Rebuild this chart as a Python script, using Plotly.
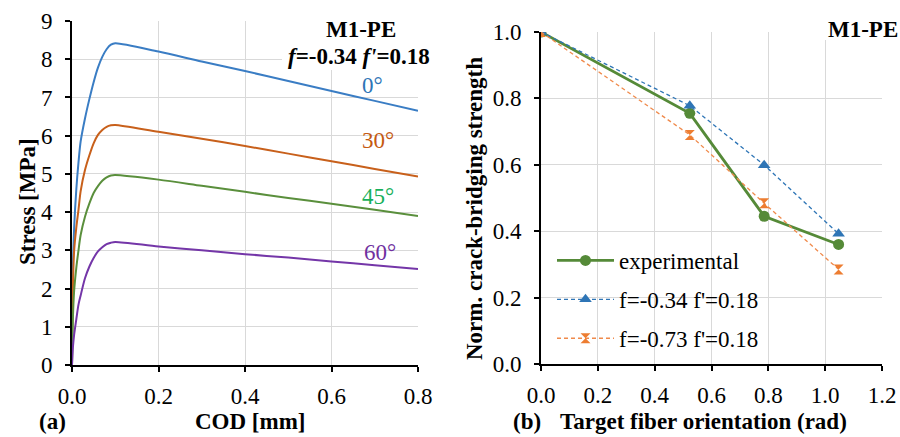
import plotly.graph_objects as go

# ---- (a) simulated crack-bridging curves, M1-PE, f=-0.34 f'=0.18 ----
cod_mm = [0, 0.002, 0.005, 0.01, 0.015, 0.02, 0.03, 0.04, 0.05, 0.06, 0.07,
          0.08, 0.09, 0.1, 0.2, 0.3, 0.4, 0.5, 0.6, 0.7, 0.8]
stress_0deg = [0, 2.5, 3.6, 4.6, 5.3, 5.85, 6.45, 6.95, 7.4, 7.78, 8.06,
               8.26, 8.38, 8.42, 8.2, 7.94, 7.69, 7.43, 7.17, 6.91, 6.65]
stress_30deg = [0, 2.0, 3.0, 3.6, 4.06, 4.55, 5.1, 5.48, 5.8, 6.02, 6.15,
                6.23, 6.27, 6.28, 6.1, 5.92, 5.73, 5.53, 5.33, 5.13, 4.93]
stress_45deg = [0, 1.2, 1.95, 2.55, 3.0, 3.4, 3.88, 4.22, 4.5, 4.68, 4.82,
                4.91, 4.96, 4.97, 4.85, 4.69, 4.53, 4.37, 4.22, 4.06, 3.9]
stress_60deg = [0, 0.45, 0.8, 1.2, 1.58, 1.82, 2.27, 2.57, 2.8, 2.97, 3.08,
                3.16, 3.2, 3.22, 3.1, 3.0, 2.9, 2.81, 2.71, 2.61, 2.51]
angle_labels = ["0°", "30°", "45°", "60°"]

# ---- (b) normalized crack-bridging strength vs. fiber orientation ----
orientation_rad = [0.0, 0.5236, 0.7854, 1.0472]
experimental = [1.0, 0.755, 0.445, 0.36]
model_f034 = [1.0, 0.778, 0.599, 0.392]
model_f073 = [1.0, 0.69, 0.484, 0.285]

SERIF = "Liberation Serif"
FS = 23
W, H = 900, 437


def px(x):
    return x / W


def py(y):
    return 1 - y / H


fig = go.Figure()

curve_colors = ["#3a7dc4", "#c8601b", "#5a8f3c", "#7436a8"]
label_colors = ["#2e75b6", "#c55a11", "#17b05a", "#7030a0"]
curves = [stress_0deg, stress_30deg, stress_45deg, stress_60deg]
for ys, col, name in zip(curves, curve_colors, angle_labels):
    fig.add_trace(go.Scatter(
        x=cod_mm, y=ys, mode="lines", name=name, showlegend=False,
        line=dict(color=col, width=2, shape="spline", smoothing=0.8),
        xaxis="x", yaxis="y"))

fig.add_trace(go.Scatter(
    x=orientation_rad, y=experimental, mode="lines+markers",
    name="experimental", legendgroup="a",
    line=dict(color="#558a38", width=2.8),
    marker=dict(symbol="circle", size=11, color="#558a38"),
    xaxis="x2", yaxis="y2"))
fig.add_trace(go.Scatter(
    x=orientation_rad, y=model_f034, mode="lines+markers",
    name="f=-0.34 f'=0.18", legendgroup="b",
    line=dict(color="#2e75b6", width=1.3, dash="4px,3px"),
    marker=dict(symbol="triangle-up", size=11, color="#2e75b6"),
    xaxis="x2", yaxis="y2"))
fig.add_trace(go.Scatter(
    x=orientation_rad, y=model_f073, mode="lines+markers",
    name="f=-0.73 f'=0.18", legendgroup="c",
    line=dict(color="#f08a4b", width=1.3, dash="4px,3px"),
    marker=dict(symbol="hourglass", size=10, color="#ed7d31"),
    xaxis="x2", yaxis="y2"))

tickfont = dict(family=SERIF, size=FS, color="black")
axis_common = dict(
    showgrid=True, gridcolor="#d9d9d9", gridwidth=1,
    showline=True, linecolor="black", linewidth=2,
    ticks="outside", ticklen=5, tickwidth=2, tickcolor="black",
    tickfont=tickfont, zeroline=False, fixedrange=True, automargin=False)

fig.update_layout(
    template="none",
    width=W, height=H,
    margin=dict(l=0, r=0, t=0, b=0),
    paper_bgcolor="white", plot_bgcolor="white",
    font=dict(family=SERIF, size=FS, color="black"),
    xaxis=dict(domain=[px(72), px(418)], range=[0, 0.8],
               tickvals=[0, 0.2, 0.4, 0.6, 0.8], tickformat=".1f",
               ticklabelstandoff=4, anchor="y", **axis_common),
    yaxis=dict(domain=[py(365), py(21)], range=[0, 9], dtick=1,
               ticklabelstandoff=8, anchor="x", **axis_common),
    xaxis2=dict(domain=[px(541), px(882)], range=[0, 1.2],
                dtick=0.2, tickformat=".1f", ticklabelstandoff=4,
                anchor="y2", **axis_common),
    yaxis2=dict(domain=[py(364), py(32)], range=[0, 1.0],
                dtick=0.2, tickformat=".1f", ticklabelstandoff=8,
                anchor="x2", **axis_common),
    legend=dict(x=px(552), y=py(239), xanchor="left", yanchor="top",
                bgcolor="rgba(0,0,0,0)", font=dict(family=SERIF, size=FS),
                traceorder="grouped", tracegroupgap=6, itemwidth=57),
    shapes=[
        # white backing behind the panel headers
        dict(type="rect", xref="paper", yref="paper", layer="above",
             x0=px(282), x1=px(419), y0=py(70), y1=py(8),
             fillcolor="white", line=dict(width=0)),
        dict(type="rect", xref="paper", yref="paper", layer="above",
             x0=px(822), x1=px(900), y0=py(40), y1=py(10),
             fillcolor="white", line=dict(width=0)),
    ],
)

annotations = [
    # panel (a)
    dict(x=px(361), y=py(29), text="<b>M1-PE</b>"),
    dict(x=px(359), y=py(56), text="<b><i>f</i>=-0.34 <i>f'</i>=0.18</b>"),
    dict(x=px(27), y=py(202), text="<b>Stress [MPa]</b>", textangle=-90),
    dict(x=px(250), y=py(421), text="<b>COD [mm]</b>"),
    dict(x=px(52), y=py(421), text="<b>(a)</b>"),
    # panel (b)
    dict(x=px(863), y=py(29), text="<b>M1-PE</b>"),
    dict(x=px(474), y=py(208), text="<b>Norm. crack-bridging strength</b>",
         textangle=-90),
    dict(x=px(527), y=py(421), text="<b>(b)</b>"),
    dict(x=px(703), y=py(421), text="<b>Target fiber orientation (rad)</b>"),
]
for a in annotations:
    a["color"] = "black"
    a["xanchor"] = "center"
label_pos = [(360, 85), (360, 141), (360, 196), (362, 252)]
for lab, col, (lx, ly) in zip(angle_labels, label_colors, label_pos):
    annotations.append(dict(x=px(lx), y=py(ly), text=lab, color=col,
                            xanchor="left"))

for a in annotations:
    col = a.pop("color")
    a.update(xref="paper", yref="paper", showarrow=False,
             yanchor="middle", font=dict(family=SERIF, size=FS, color=col))
fig.update_layout(annotations=annotations)

fig.write_html("out.html")
